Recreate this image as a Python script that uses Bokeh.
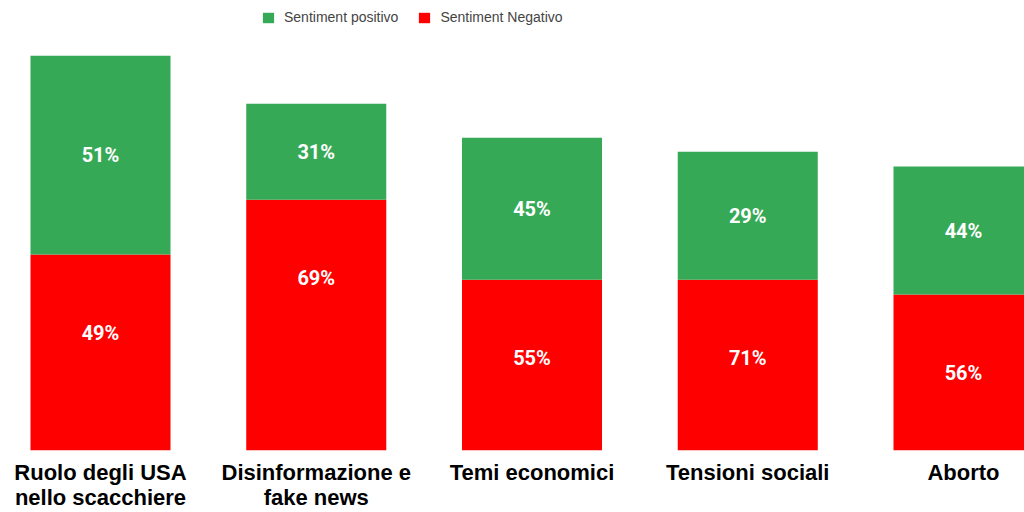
from bokeh.plotting import figure
from bokeh.models import ColumnDataSource, Range1d, FixedTicker, Legend, LegendItem
from bokeh.core.properties import value
from bokeh.embed import file_html
from bokeh.resources import INLINE

# ---- data ----
categories = ["Ruolo degli USA\nnello scacchiere", "Disinformazione e\nfake news",
              "Temi economici", "Tensioni sociali", "Aborto"]
negativo = [49.0, 62.7, 42.7, 42.7, 39.0]
positivo = [49.7, 24.0, 35.5, 32.0, 32.0]
label_pos = ["51%", "31%", "45%", "29%", "44%"]
label_neg = ["49%", "69%", "55%", "71%", "56%"]
series_names = ["Sentiment positivo", "Sentiment Negativo"]

GREEN = "#36a957"
RED = "#ff0000"

xs = list(range(len(categories)))
src = ColumnDataSource(dict(
    x=xs,
    neg=negativo,
    pos=positivo,
    pos_mid=[n + p / 2 for n, p in zip(negativo, positivo)],
    neg_top=negativo,
    lp=label_pos,
    ln=label_neg,
))

p = figure(width=1024, height=512, output_backend="svg", toolbar_location=None,
           x_range=Range1d(-0.4635, 4.2827), y_range=Range1d(0, 112.5),
           min_border_left=0, min_border_right=0, min_border_top=0, min_border_bottom=62)

rs = p.vbar_stack(["neg", "pos"], x="x", width=0.649, source=src,
                  color=[RED, GREEN], line_color=None)
r_neg, r_pos = rs

p.text(x="x", y="pos_mid", text="lp", source=src, text_color="white",
       text_font=value("Roboto"), text_font_style="bold", text_font_size="20px",
       text_align="center", text_baseline="middle")
p.text(x="x", y="neg_top", text="ln", source=src, text_color="white",
       text_font=value("Roboto"), text_font_style="bold", text_font_size="20px",
       text_align="center", text_baseline="middle", y_offset=78)

legend = Legend(items=[LegendItem(label=series_names[0], renderers=[r_pos]),
                       LegendItem(label=series_names[1], renderers=[r_neg])],
                orientation="horizontal", location=(261, 425),
                glyph_width=14, glyph_height=13, label_standoff=9, spacing=19,
                padding=0, margin=0, border_line_color=None, background_fill_alpha=0,
                label_text_font="Liberation Sans", label_text_font_size="14px",
                label_text_color="#444444", label_height=13)
p.add_layout(legend)

p.xaxis.ticker = FixedTicker(ticks=xs)
p.xaxis.major_label_overrides = {i: c for i, c in zip(xs, categories)}
p.xaxis.axis_line_color = None
p.xaxis.major_tick_line_color = None
p.xaxis.minor_tick_line_color = None
p.xaxis.major_tick_out = 0
p.xaxis.major_tick_in = 0
p.xaxis.major_label_standoff = 9
p.xaxis.major_label_text_font = "Liberation Sans"
p.xaxis.major_label_text_font_style = "bold"
p.xaxis.major_label_text_font_size = "22px"
p.xaxis.major_label_text_line_height = 1.0
p.xaxis.major_label_text_color = "#000000"
p.yaxis.visible = False
p.xgrid.visible = False
p.ygrid.visible = False
p.outline_line_color = None

open("out.html", "w").write(file_html(p, INLINE))
